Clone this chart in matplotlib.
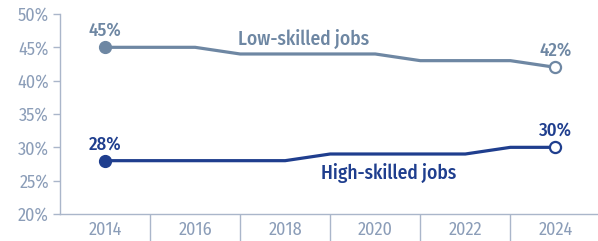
import matplotlib
matplotlib.use('Agg')
import matplotlib.pyplot as plt

plt.rcParams['font.family'] = ['Fira Sans Condensed', 'DejaVu Sans']

years = [2014, 2015, 2016, 2017, 2018, 2019, 2020, 2021, 2022, 2023, 2024]
low_skilled = [45, 45, 45, 44, 44, 44, 44, 43, 43, 43, 42]
high_skilled = [28, 28, 28, 28, 28, 29, 29, 29, 29, 30, 30]
year_labels = ['2014', '2016', '2018', '2020', '2022', '2024']
y_ticks = [20, 25, 30, 35, 40, 45, 50]

low_col = '#6e87a3'
high_col = '#1f3e8e'
tick_col = '#8b9db8'
axis_col = '#aab6ca'

fig = plt.figure(figsize=(5.98, 2.41), dpi=100)
ax = fig.add_axes([0.1003, 0.112, 0.9, 0.83])

for vals, col in [(low_skilled, low_col), (high_skilled, high_col)]:
    ax.plot(years, vals, color=col, lw=2.3, solid_capstyle='round', zorder=3)
    ax.plot(years[0], vals[0], 'o', ms=8.5, color=col, zorder=4)
    ax.plot(years[-1], vals[-1], 'o', ms=8, mfc='white', mec=col, mew=1.6, zorder=4)
    ax.text(years[0], vals[0] + 2.5, f'{vals[0]}%', color=col, fontsize=13.5,
            fontweight='medium', ha='center', va='center')
    ax.text(years[-1], vals[-1] + 2.5, f'{vals[-1]}%', color=col, fontsize=13.5,
            fontweight='medium', ha='center', va='center')

ax.text(2018.4, 46.3, 'Low-skilled jobs', color=low_col, fontsize=14,
        fontweight='medium', ha='center', va='center')
ax.text(2020.3, 26.1, 'High-skilled jobs', color=high_col, fontsize=14,
        fontweight='medium', ha='center', va='center')

ax.set_xlim(2013, 2024.95)
ax.set_ylim(20, 50)
ax.set_yticks(y_ticks)
ax.set_yticklabels([f'{v}%' for v in y_ticks], color=tick_col, fontsize=13)
ax.set_xticks([int(y) for y in year_labels])
ax.set_xticklabels(year_labels, color=tick_col, fontsize=13)
ax.set_xticks([2015, 2017, 2019, 2021, 2023], minor=True)
ax.tick_params(axis='x', which='major', length=0, pad=5)
ax.tick_params(axis='x', which='minor', length=30, direction='out', color=axis_col, width=1)
ax.tick_params(axis='y', length=5, color=axis_col, width=1, pad=3)

for s in ['top', 'right']:
    ax.spines[s].set_visible(False)
for s in ['left', 'bottom']:
    ax.spines[s].set_color(axis_col)
    ax.spines[s].set_linewidth(1)

fig.savefig('out.png', dpi=100)
